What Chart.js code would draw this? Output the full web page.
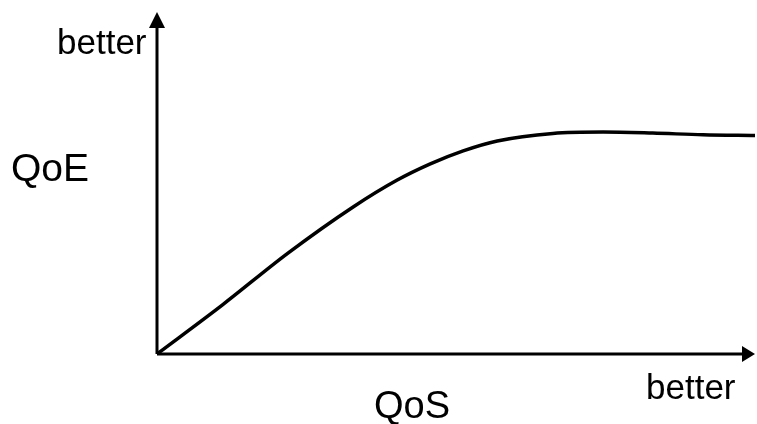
<!DOCTYPE html>
<html>
<head>
<meta charset="utf-8">
<script src="https://cdn.jsdelivr.net/npm/chart.js@4/dist/chart.umd.min.js"></script>
<style>
  html, body { margin: 0; padding: 0; background: #fff; }
  #wrap { width: 757px; height: 424px; }
</style>
</head>
<body>
<div id="wrap"><canvas id="qoeChart" width="757" height="424"></canvas></div>
<script>
// QoS (x) vs QoE (y), arbitrary 0-100 units
const qosValues = [0, 10.9, 21.9, 32.8, 40.1, 45.7, 51.2, 56.9, 66.2, 74.6, 82.9, 91.3, 100];
const qoeValues = [0, 14.3, 29.5, 43.0, 50.8, 55.6, 59.4, 62.3, 64.5, 64.9, 64.6, 64.1, 63.9];
const axisLabels = { x: 'QoS', y: 'QoE', better: 'better' };

const fontFamily = '"Liberation Sans", Arial, sans-serif';

// axes with arrow heads, plus the free text labels
const sketchAxes = {
    id: 'sketchAxes',
    beforeDatasetsDraw(chart) {
        const ctx = chart.ctx;
        const xs = chart.scales.x, ys = chart.scales.y;
        const x0 = xs.getPixelForValue(0), y0 = ys.getPixelForValue(0);
        const xEnd = xs.getPixelForValue(100), yEnd = ys.getPixelForValue(100);
        ctx.save();
        ctx.strokeStyle = '#000';
        ctx.fillStyle = '#000';
        ctx.lineWidth = 3;
        ctx.beginPath();
        ctx.moveTo(x0, y0);
        ctx.lineTo(x0, yEnd + 12);
        ctx.moveTo(x0, y0);
        ctx.lineTo(xEnd - 10, y0);
        ctx.stroke();
        // y arrow
        ctx.beginPath();
        ctx.moveTo(x0, yEnd);
        ctx.lineTo(x0 - 8, yEnd + 16);
        ctx.lineTo(x0 + 8, yEnd + 16);
        ctx.closePath();
        ctx.fill();
        // x arrow
        ctx.beginPath();
        ctx.moveTo(xEnd, y0);
        ctx.lineTo(xEnd - 13, y0 - 8);
        ctx.lineTo(xEnd - 13, y0 + 8);
        ctx.closePath();
        ctx.fill();

        ctx.textBaseline = 'alphabetic';
        ctx.textAlign = 'left';
        ctx.font = '35px ' + fontFamily;
        ctx.fillText(axisLabels.better, 57, 54);
        ctx.fillText(axisLabels.better, 646, 399);
        ctx.font = '39px ' + fontFamily;
        ctx.fillText(axisLabels.y, 11, 181);
        ctx.font = '38px ' + fontFamily;
        ctx.fillText(axisLabels.x, 374, 418);
        ctx.restore();
    }
};

new Chart(document.getElementById('qoeChart'), {
    type: 'line',
    data: {
        datasets: [{
            data: qosValues.map((v, i) => ({ x: v, y: qoeValues[i] })),
            borderColor: '#000',
            borderWidth: 3.5,
            pointRadius: 0,
            fill: false,
            cubicInterpolationMode: 'monotone'
        }]
    },
    options: {
        responsive: false,
        animation: false,
        layout: { padding: { left: 157, right: 2, top: 12, bottom: 70 } },
        plugins: { legend: { display: false }, tooltip: { enabled: false } },
        scales: {
            x: { type: 'linear', min: 0, max: 100, display: false },
            y: { type: 'linear', min: 0, max: 100, display: false }
        }
    },
    plugins: [sketchAxes]
});
</script>
</body>
</html>
